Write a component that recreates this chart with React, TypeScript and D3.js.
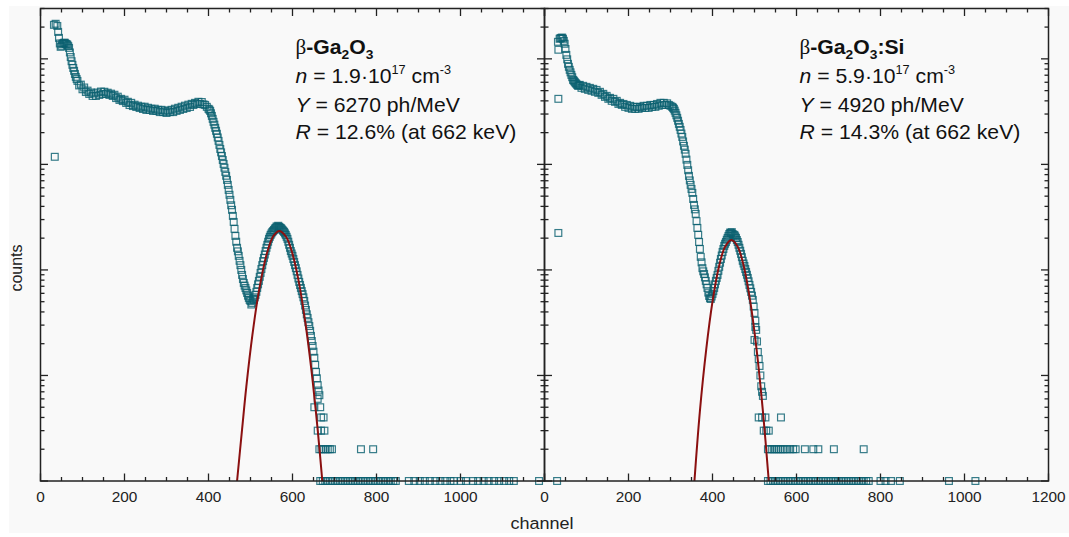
import React from 'react';
import * as d3 from 'd3';

const W = 1069, H = 537;

// beta-Ga2O3 spectrum, channels 32, 36, 40 ... (step 4)
const leftStart = 32, leftStep = 4;
const leftCounts = [
  21000, 21500, 20500, 15800, 13000, 13900, 14200, 13900, 13600, 12700, 10400, 8780, 7700, 6750,
  6180, 5600, 5700, 5150, 5350, 4850, 5000, 4650, 4800, 4450, 4700, 4450, 4800, 4550, 4900, 4650,
  4880, 4650, 4780, 4550, 4680, 4450, 4570, 4250, 4380, 4080, 4180, 3980, 4100, 3820, 3920, 3650,
  3830, 3570, 3680, 3500, 3600, 3420, 3520, 3350, 3520, 3280, 3440, 3280, 3370, 3210, 3370, 3210,
  3290, 3130, 3290, 3130, 3230, 3070, 3230, 3130, 3290, 3130, 3370, 3210, 3440, 3280, 3520, 3350,
  3600, 3420, 3680, 3500, 3750, 3650, 3830, 3740, 3920, 3740, 3900, 3700, 3660, 3510, 3360, 3210,
  2880, 2530, 2220, 1950, 1670, 1400, 1200, 1010, 849, 713, 573, 461, 371, 285, 210, 162, 136, 111,
  89.7, 75.3, 67.5, 60.5, 54.3, 50.8, 48.7, 52, 58, 67.5, 78.7, 93.7, 111, 130, 151, 173, 197, 215,
  229, 239, 250, 256, 256, 250, 239, 229, 215, 197, 173, 151, 136, 119, 104, 89.7, 77, 67.5, 59,
  50.8, 41.8, 35.1, 29.4, 23.7, 19, 14.7, 10.8, 8.1, 6.5,
];
// in-between channels where the points are packed tightly
const leftEarlyStart = 42;
const leftEarly = [18000, 14000, 13300, 14000, 14200, 13800, 13200, 11500, 9500, 8200, 7200, 6450];
const leftDropStart = 402;
const leftDrop = [
  3300, 3050, 2700, 2380, 2080, 1800, 1530, 1300, 1100, 930, 780, 640, 515, 410, 325, 245, 185, 150,
  122, 100, 82, 71, 64, 57, 52, 47, 53, 55, 62, 73, 86, 102, 121, 140, 162, 185, 206, 222, 234, 246,
  258, 262, 252, 245, 234, 222, 206, 185, 162, 143, 127, 111, 97, 83, 72, 63, 55, 46, 38, 32, 26.5,
  21.2, 16.8, 12.6, 9.4, 7.2,
];
const leftExtraCh = [34, 652, 660, 666, 668, 674, 660, 668, 676, 664, 669, 674, 679, 684, 689, 694, 763, 792];
const leftExtraCounts = [1180, 5, 6, 5, 4, 4, 3, 3, 3, 2, 2, 2, 2, 2, 2, 2, 2, 2];
const leftOnes = [
  666, 672, 678, 684, 690, 696, 702, 708, 714, 720, 726, 732, 738, 744, 750, 756, 762, 768, 774, 780,
  786, 792, 798, 804, 810, 816, 822, 828, 834, 840, 846, 877, 890, 903, 915, 927, 940, 952, 964, 976,
  984, 1001, 1013, 1030, 1042, 1055, 1067, 1080, 1092, 1104, 1116, 1127, 1187,
];
const leftFitCh = [468, 480, 490, 505, 520, 540, 555, 569, 585, 600, 615, 630, 645, 660, 671];
const leftFitCounts = [1, 3.1, 7.8, 25, 63, 148, 211, 234, 205, 142, 77, 33, 11.3, 3.05, 1];

// beta-Ga2O3:Si spectrum
const rightStart = 32, rightStep = 4;
const rightCounts = [
  14500, 15500, 15800, 15500, 13900, 10900, 8970, 7870, 7050, 6320, 6050,
  5790, 5550, 5670, 5310, 5550, 5200, 5430, 5080, 5310, 4980, 5200, 4870, 5080, 4760, 4870, 4560,
  4660, 4360, 4460, 4180, 4270, 4000, 4180, 3910, 4000, 3740, 3830, 3660, 3740, 3510, 3660, 3430,
  3590, 3360, 3510, 3360, 3510, 3360, 3510, 3430, 3590, 3430, 3590, 3430, 3660, 3510, 3660, 3510,
  3740, 3590, 3830, 3660, 3830, 3660, 3790, 3660, 3590, 3510,
  3360, 3080, 2760, 2420, 2120, 1820, 1500, 1260, 989, 778, 640, 537, 413, 340, 250, 184, 133, 104,
  91.6, 78.7, 67.5, 56.7, 53.1, 59.3, 67.5, 78.7, 89.7, 107, 127, 148, 169, 184, 201, 219, 224, 219,
  215, 201, 184, 162, 142, 122, 109, 95.7, 84, 72.1, 61.9, 52, 39.1, 27, 16.7, 12.3, 7.9, 6.4,
];
const rightEarlyStart = 38;
const rightEarly = [15700, 15900, 14800, 12400, 9900, 8400, 7450, 6700, 6200, 5900, 5650, 5600];
const rightDropStart = 306;
const rightDrop = [
  3440, 3230, 2920, 2590, 2270, 1960, 1650, 1380, 1110, 880, 705, 585, 470, 375, 290, 215, 158, 118,
  97, 85, 73, 61, 54, 56, 63, 73, 84, 98, 117, 137, 158, 177, 193, 210, 226, 228, 212, 208, 192, 173,
  152, 132, 115, 102, 90, 78, 67, 57, 45, 33, 21, 14.3, 10, 7,
];
const rightExtraCh = [
  33, 33, 33, 500, 502, 510, 518, 526, 563, 522, 528, 534,
  532, 537, 542, 547, 552, 557, 562, 567, 572, 578, 585, 592, 598, 620, 640, 652, 689, 760,
];
const rightExtraCounts = [
  12200, 4180, 224, 21.7, 28.8, 4, 4, 4, 4, 3, 3, 3,
  2, 2, 2, 2, 2, 2, 2, 2, 2, 2, 2, 2, 2, 2, 2, 2, 2, 2,
];
const rightOnes = [
  30, 532, 538, 544, 550, 556, 562, 568, 574, 580, 586, 592, 598, 604, 610, 616, 622, 628, 634, 640,
  646, 652, 658, 664, 670, 676, 682, 688, 694, 700, 706, 712, 718, 724, 730, 736, 742, 748, 754, 760,
  766, 772, 800, 812, 825, 846, 963, 1026,
];
const rightFitCh = [357, 370, 385, 400, 415, 430, 445, 460, 475, 490, 505, 520, 534];
const rightFitCounts = [1, 4.6, 17.6, 50, 106, 166, 192, 166, 106, 50, 17.6, 4.6, 1];

const xTickLabelsLeft = [0, 200, 400, 600, 800, 1000];
const xTickLabelsRight = [0, 200, 400, 600, 800, 1000, 1200];

const SX = 1.06; // source figure is slightly stretched horizontally
const FONT = '"Liberation Sans", Arial, sans-serif';
const AXIS = '#222';
const MARK = '#0b6070';
const FIT = '#8b1010';

const yScale = d3.scaleLog().domain([1, 30000]).range([481, 8.5]);
const yMajor = [1, 10, 100, 1000, 10000];
const yMinor: number[] = [];
yMajor.forEach(d => d3.range(2, 10).forEach(m => { if (d * m <= 30000) yMinor.push(d * m); }));

function Panel({ x0, runs, extraCh, extraCounts, ones, fitCh, fitCounts, labels, lines }: any) {
  const x = d3.scaleLinear().domain([0, 1200]).range([x0, x0 + 504]);
  const [yb, yt] = yScale.range();
  const pts: [number, number][] = [];
  runs.forEach(([start, step, counts]: [number, number, number[]]) =>
    counts.forEach((c, i) => pts.push([start + i * step, c])));
  extraCh.forEach((c: number, i: number) => pts.push([c, extraCounts[i]]));
  ones.forEach((c: number) => pts.push([c, 1]));
  const fit = d3.line<number>().x((_, i) => x(fitCh[i])).y(d => yScale(d)).curve(d3.curveCatmullRom)(fitCounts);
  const xl = x0, xr = x0 + 504;
  return (
    <g>
      {pts.map(([c, v], i) => (
        <rect key={i} x={x(c) - 3.4} y={yScale(v) - 3.4} width={6.8} height={6.8} fill="none"
          stroke={MARK} strokeOpacity={0.82} strokeWidth={1.2} />
      ))}
      <path d={fit || ''} fill="none" stroke={FIT} strokeWidth={2} />
      <rect x={xl} y={yt} width={504} height={yb - yt} fill="none" stroke={AXIS} strokeWidth={1.5} />
      {d3.range(0, 1201, 50).map(t => {
        const len = t % 200 === 0 ? 7.5 : 4;
        return (
          <g key={'x' + t}>
            <line x1={x(t)} x2={x(t)} y1={yb} y2={yb - len} stroke={AXIS} strokeWidth={1.3} />
            <line x1={x(t)} x2={x(t)} y1={yt} y2={yt + len} stroke={AXIS} strokeWidth={1.3} />
          </g>
        );
      })}
      {yMajor.concat(yMinor).map(v => {
        const len = yMajor.includes(v) ? 7.5 : 4;
        return (
          <g key={'y' + v}>
            <line x1={xl} x2={xl + len} y1={yScale(v)} y2={yScale(v)} stroke={AXIS} strokeWidth={1.3} />
            <line x1={xr} x2={xr - len} y1={yScale(v)} y2={yScale(v)} stroke={AXIS} strokeWidth={1.3} />
          </g>
        );
      })}
      {labels.map((t: number) => (
        <g key={'l' + t} transform={`translate(${x(t)},502) scale(${SX},1)`}>
          <text textAnchor="middle" fontSize={14.5} fontFamily={FONT} fill={AXIS}>{t}</text>
        </g>
      ))}
      <g transform={`translate(${x0 + 255},0) scale(${SX},1)`} fontFamily={FONT} fontSize={20} fill="#111">
        <text y={54}>
          <tspan fontFamily='"Liberation Serif", serif' fontSize={20}>β</tspan>
          <tspan fontWeight="bold">-Ga</tspan>
          <tspan fontWeight="bold" fontSize={13} dy={5}>2</tspan>
          <tspan fontWeight="bold" dy={-5}>O</tspan>
          <tspan fontWeight="bold" fontSize={13} dy={5}>3</tspan>
          {lines[0] ? <tspan fontWeight="bold" dy={-5}>{lines[0]}</tspan> : null}
        </text>
        <text y={83}>
          <tspan fontStyle="italic">n</tspan>
          <tspan> = {lines[1]}·10</tspan>
          <tspan fontSize={12} dy={-9}>17</tspan>
          <tspan dy={9}> cm</tspan>
          <tspan fontSize={12} dy={-9}>-3</tspan>
        </text>
        <text y={112}>
          <tspan fontStyle="italic">Y</tspan>
          <tspan> = {lines[2]} ph/MeV</tspan>
        </text>
        <text y={139}>
          <tspan fontStyle="italic">R</tspan>
          <tspan> = {lines[3]}% (at 662 keV)</tspan>
        </text>
      </g>
    </g>
  );
}

export default function App() {
  return (
    <svg width={W} height={H} style={{ position: 'absolute', left: 0, top: 0, background: '#fff' }}>
      <rect x={9} y={6} width={W - 9} height={527} fill="#f9f9f9" />
      <Panel x0={40.5}
        runs={[[leftStart, leftStep, leftCounts], [leftEarlyStart, 4, leftEarly], [leftDropStart, 4, leftDrop]]}
        extraCh={leftExtraCh} extraCounts={leftExtraCounts} ones={leftOnes}
        fitCh={leftFitCh} fitCounts={leftFitCounts}
        labels={xTickLabelsLeft} lines={['', '1.9', '6270', '12.6']} />
      <Panel x0={544.5}
        runs={[[rightStart, rightStep, rightCounts], [rightEarlyStart, 4, rightEarly], [rightDropStart, 4, rightDrop]]}
        extraCh={rightExtraCh} extraCounts={rightExtraCounts} ones={rightOnes}
        fitCh={rightFitCh} fitCounts={rightFitCounts}
        labels={xTickLabelsRight} lines={[':Si', '5.9', '4920', '14.3']} />
      <g transform={`translate(542,529) scale(${SX},1)`}>
        <text textAnchor="middle" fontSize={17} fontFamily={FONT} fill={AXIS}>channel</text>
      </g>
      <g transform={`translate(22,268) scale(${SX},1) rotate(-90)`}>
        <text textAnchor="middle" fontSize={16} fontFamily={FONT} fill={AXIS}>counts</text>
      </g>
    </svg>
  );
}
